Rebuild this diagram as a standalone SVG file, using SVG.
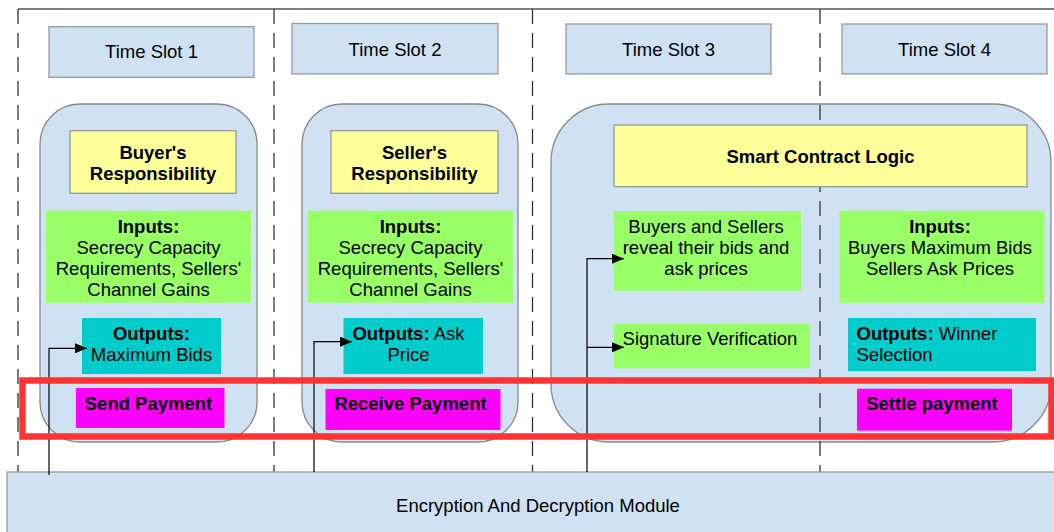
<svg xmlns="http://www.w3.org/2000/svg" width="1054" height="532" viewBox="0 0 1054 532">
<defs>
<style>
text{font-family:"Liberation Sans",Arial,sans-serif;font-size:18.5px;fill:#000}
.b{font-weight:bold}
.slot{fill:#cfe2f3;stroke:#999;stroke-width:1.3}
.cont{fill:#cfe2f3;stroke:#888;stroke-width:1.3}
.yel{fill:#ffff99;stroke:#999;stroke-width:1.3}
.grn{fill:#99ff66}
.cyn{fill:#00cccc}
.mag{fill:#ff00ff}
.dash{stroke:#333;stroke-width:1.3;stroke-dasharray:15,9;fill:none}
.conn{stroke:#000;stroke-width:1.2;fill:none;marker-end:url(#ah)}
</style>
<marker id="ah" viewBox="0 0 12 10" refX="12" refY="5" markerWidth="12" markerHeight="10" markerUnits="userSpaceOnUse" orient="auto">
<path d="M0,0 L12,5 L0,10 z" fill="#000"/>
</marker>
</defs>
<rect width="1054" height="532" fill="#fff"/>

<g id="containers">
<rect id="c1" class="cont" x="40" y="104" width="217" height="338" rx="40" ry="40"/>
<rect id="c2" class="cont" x="302" y="104" width="216" height="338" rx="40" ry="40"/>
<rect id="c3" class="cont" x="551" y="104" width="500" height="338" rx="58" ry="58"/>
</g>

<g id="dividers">
<line x1="18" y1="9" x2="1054" y2="9" stroke="#555" stroke-width="1.5"/>
<line class="dash" x1="18" y1="9" x2="18" y2="472"/>
<line class="dash" x1="274" y1="9" x2="274" y2="472"/>
<line class="dash" x1="532.5" y1="9" x2="532.5" y2="472"/>
<line class="dash" x1="820" y1="9" x2="820" y2="472"/>
</g>

<g id="ts1"><rect class="slot" x="49" y="26.7" width="205" height="50.6"/><text x="151.5" y="57.6" text-anchor="middle">Time Slot 1</text></g>
<g id="ts2"><rect class="slot" x="292" y="23.5" width="206" height="50.5"/><text x="395" y="56" text-anchor="middle">Time Slot 2</text></g>
<g id="ts3"><rect class="slot" x="566" y="24" width="205" height="50"/><text x="668.5" y="56" text-anchor="middle">Time Slot 3</text></g>
<g id="ts4"><rect class="slot" x="842" y="24" width="205" height="50"/><text x="944.5" y="56" text-anchor="middle">Time Slot 4</text></g>

<g id="buyer-resp"><rect class="yel" x="70" y="130.7" width="166" height="62.6"/>
<text class="b" x="153" y="158.5" text-anchor="middle">Buyer's</text>
<text class="b" x="153" y="180" text-anchor="middle">Responsibility</text></g>
<g id="seller-resp"><rect class="yel" x="331" y="130.7" width="167" height="62.6"/>
<text class="b" x="414.5" y="158.5" text-anchor="middle">Seller's</text>
<text class="b" x="414.5" y="180" text-anchor="middle">Responsibility</text></g>
<g id="smart-contract"><rect class="yel" x="614" y="125" width="413" height="61.7"/>
<text class="b" x="820.5" y="163.3" text-anchor="middle">Smart Contract Logic</text></g>

<g id="inputs1"><rect class="grn" x="46" y="210.7" width="205" height="92"/>
<text x="148.5" y="232.6" text-anchor="middle" class="b">Inputs:</text>
<text x="148.5" y="253.6" text-anchor="middle">Secrecy Capacity</text>
<text x="148.5" y="274.6" text-anchor="middle">Requirements, Sellers'</text>
<text x="148.5" y="295.6" text-anchor="middle">Channel Gains</text></g>
<g id="inputs2"><rect class="grn" x="308" y="210.7" width="205" height="92"/>
<text x="410.5" y="232.6" text-anchor="middle" class="b">Inputs:</text>
<text x="410.5" y="253.6" text-anchor="middle">Secrecy Capacity</text>
<text x="410.5" y="274.6" text-anchor="middle">Requirements, Sellers'</text>
<text x="410.5" y="295.6" text-anchor="middle">Channel Gains</text></g>
<g id="reveal"><rect class="grn" x="614" y="211" width="187" height="79.7"/>
<text x="706" y="232.6" text-anchor="middle">Buyers and Sellers</text>
<text x="706" y="253.6" text-anchor="middle">reveal their bids and</text>
<text x="706" y="274.6" text-anchor="middle">ask prices</text></g>
<g id="signature"><rect class="grn" x="614" y="324" width="196" height="44.3"/>
<text x="710" y="344.5" text-anchor="middle">Signature Verification</text></g>
<g id="inputs4"><rect class="grn" x="839.5" y="210.7" width="205" height="92"/>
<text x="940" y="232.6" text-anchor="middle" class="b">Inputs:</text>
<text x="940" y="253.6" text-anchor="middle">Buyers Maximum Bids</text>
<text x="940" y="274.6" text-anchor="middle">Sellers Ask Prices</text></g>

<g id="outputs1"><rect class="cyn" x="82" y="318" width="139" height="56"/>
<text x="151.5" y="340" text-anchor="middle" class="b">Outputs:</text>
<text x="151.5" y="361" text-anchor="middle">Maximum Bids</text></g>
<g id="outputs2"><rect class="cyn" x="343.5" y="318" width="139.5" height="56"/>
<text x="408.5" y="340" text-anchor="middle"><tspan class="b">Outputs:</tspan> Ask</text>
<text x="408.5" y="361" text-anchor="middle">Price</text></g>
<g id="outputs4"><rect class="cyn" x="848" y="318" width="188" height="53"/>
<text x="856.5" y="340"><tspan class="b">Outputs:</tspan> Winner</text>
<text x="856.5" y="361">Selection</text></g>

<g id="send-payment"><rect class="mag" x="76" y="388" width="148.5" height="40"/>
<text class="b" x="148.5" y="410" text-anchor="middle">Send Payment</text></g>
<g id="receive-payment"><rect class="mag" x="325.5" y="389" width="175" height="41"/>
<text class="b" x="410.5" y="410" text-anchor="middle">Receive Payment</text></g>
<g id="settle-payment"><rect class="mag" x="857" y="388.7" width="155" height="42"/>
<text class="b" x="932" y="410" text-anchor="middle">Settle payment</text></g>

<g id="encryption"><rect class="slot" x="7" y="472" width="1060" height="70"/>
<text x="538" y="511.5" text-anchor="middle">Encryption And Decryption Module</text></g>

<g id="connectors">
<path class="conn" d="M49,475 V348.3 H87"/>
<path class="conn" d="M314,472 V341.7 H352"/>
<path class="conn" d="M587,472 V258.7 H624"/>
<path class="conn" d="M587,347.3 H624"/>
</g>

<g id="highlight">
<rect x="22.5" y="380.5" width="1029" height="56" fill="none" stroke="#ff3333" stroke-width="6.5"/>
</g>
</svg>
